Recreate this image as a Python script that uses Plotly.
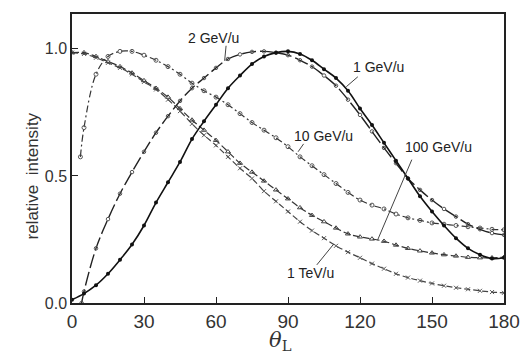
import plotly.graph_objects as go

# ---- data (theta_L in degrees, relative intensity) ----
theta = list(range(0, 181, 5))

gev1 = [0.013, 0.037, 0.07, 0.115, 0.17, 0.23, 0.305, 0.395, 0.475, 0.555,
        0.645, 0.715, 0.78, 0.845, 0.895, 0.94, 0.97, 0.985, 0.99, 0.98,
        0.955, 0.92, 0.885, 0.835, 0.765, 0.70, 0.63, 0.56, 0.49, 0.42,
        0.36, 0.305, 0.255, 0.215, 0.19, 0.175, 0.178]

theta_2gev = [4] + list(range(5, 181, 5))
gev2 = [0.0, 0.045, 0.215, 0.33, 0.43, 0.515, 0.595, 0.67, 0.735, 0.795,
        0.845, 0.885, 0.925, 0.96, 0.978, 0.988, 0.99, 0.985, 0.975, 0.955,
        0.93, 0.895, 0.855, 0.80, 0.74, 0.675, 0.61, 0.55, 0.49, 0.445,
        0.405, 0.37, 0.34, 0.31, 0.29, 0.275, 0.268]

theta_10gev = [3.5] + list(range(5, 181, 5))
gev10 = [0.575, 0.69, 0.90, 0.97, 0.99, 0.99, 0.975, 0.955, 0.93, 0.90,
         0.865, 0.835, 0.81, 0.78, 0.745, 0.71, 0.68, 0.65, 0.615, 0.575,
         0.54, 0.505, 0.47, 0.435, 0.405, 0.385, 0.37, 0.35, 0.335, 0.325,
         0.315, 0.31, 0.305, 0.30, 0.295, 0.29, 0.288]

gev100 = [0.985, 0.985, 0.97, 0.95, 0.93, 0.905, 0.875, 0.845, 0.81, 0.765,
          0.72, 0.68, 0.64, 0.595, 0.55, 0.515, 0.48, 0.445, 0.41, 0.375,
          0.345, 0.32, 0.295, 0.272, 0.26, 0.252, 0.243, 0.228, 0.215, 0.205,
          0.197, 0.19, 0.185, 0.18, 0.178, 0.178, 0.18]

tev1 = [0.985, 0.98, 0.965, 0.945, 0.925, 0.90, 0.87, 0.84, 0.80, 0.755,
        0.705, 0.66, 0.62, 0.575, 0.53, 0.49, 0.44, 0.40, 0.36, 0.32,
        0.285, 0.255, 0.225, 0.20, 0.178, 0.155, 0.135, 0.115, 0.10, 0.088,
        0.077, 0.068, 0.06, 0.054, 0.048, 0.043, 0.04]

x_ticks = [0, 30, 60, 90, 120, 150, 180]
y_ticks = [0.0, 0.5, 1.0]
y_ticklabels = ["0.0", "0.5", "1.0"]

# labels: text, text position, pointer start, pointer end
labels = [
    ("2 GeV/u", (58.9, 1.043), (64.2, 1.012), (63.6, 0.953)),
    ("1 GeV/u", (127.7, 0.927), (119.1, 0.89), (114.3, 0.851)),
    ("10 GeV/u", (104.7, 0.659), (96.5, 0.626), (94.2, 0.595)),
    ("100 GeV/u", (152.6, 0.613), (141.6, 0.564), (127.3, 0.247)),
    ("1 TeV/u", (99.2, 0.118), (102.0, 0.15), (108.8, 0.229)),
]

FONT = "Liberation Sans, Arial, sans-serif"

fig = go.Figure()

fig.add_trace(go.Scatter(
    x=theta, y=tev1, mode="lines+markers", line_shape="spline",
    line=dict(color="#444", width=1.2, dash="6px,3px"),
    marker=dict(symbol="x-thin", size=4, line=dict(color="#555", width=1)),
    name="1 TeV/u"))

fig.add_trace(go.Scatter(
    x=theta, y=gev100, mode="lines+markers", line_shape="spline",
    line=dict(color="#333", width=1.2, dash="7px,3px"),
    marker=dict(symbol="triangle-up-open", size=4.5, color="#444",
                line=dict(width=1)),
    name="100 GeV/u"))

fig.add_trace(go.Scatter(
    x=theta_10gev, y=gev10, mode="lines+markers", line_shape="spline",
    line=dict(color="#333", width=1.2, dash="7px,3px,2px,3px"),
    marker=dict(symbol="circle-open", size=4, color="#555",
                line=dict(width=1)),
    name="10 GeV/u"))

fig.add_trace(go.Scatter(
    x=theta_2gev, y=gev2, mode="lines+markers", line_shape="spline",
    line=dict(color="#222", width=1.4, dash="14px,4px"),
    marker=dict(symbol="circle-open", size=3.5, color="#555",
                line=dict(width=1)),
    name="2 GeV/u"))

fig.add_trace(go.Scatter(
    x=theta, y=gev1, mode="lines+markers", line_shape="spline",
    line=dict(color="#111", width=1.6),
    marker=dict(symbol="circle", size=4, color="#111"),
    name="1 GeV/u"))

annotations = []
shapes = []
for text, (tx, ty), (sx, sy), (ex, ey) in labels:
    annotations.append(dict(x=tx, y=ty, xref="x", yref="y", text=text,
                            showarrow=False,
                            font=dict(family=FONT, size=14, color="#222")))
    shapes.append(dict(type="line", xref="x", yref="y", x0=sx, y0=sy,
                       x1=ex, y1=ey, line=dict(color="#444", width=1)))

annotations.append(dict(x=-0.117, y=0.441, xref="paper", yref="paper",
                        text="relative  intensity", textangle=-90,
                        showarrow=False,
                        font=dict(family=FONT, size=17, color="#333")))
annotations.append(dict(x=0.482, y=-0.13, xref="paper", yref="paper",
                        text="<i>θ</i><sub>L</sub>", showarrow=False,
                        yanchor="middle",
                        font=dict(family="DejaVu Serif, serif", size=21,
                                  color="#333")))

fig.update_layout(
    width=532, height=354,
    margin=dict(l=72, r=22, t=13, b=51),
    paper_bgcolor="white", plot_bgcolor="white",
    showlegend=False,
    annotations=annotations,
    shapes=shapes,
    xaxis=dict(range=[0, 180], tickvals=x_ticks, ticks="inside", ticklen=6,
               tickcolor="#222", showline=True, linecolor="#222",
               linewidth=1.5, mirror=True, showgrid=False, zeroline=False,
               tickfont=dict(family=FONT, size=19, color="#333")),
    yaxis=dict(range=[0, 1.137], tickvals=y_ticks, ticktext=y_ticklabels,
               ticks="inside", ticklen=6, tickcolor="#222", showline=True,
               linecolor="#222", linewidth=1.5, mirror=True, showgrid=False,
               zeroline=False,
               tickfont=dict(family=FONT, size=16, color="#333")),
)

fig.write_html("out.html")
